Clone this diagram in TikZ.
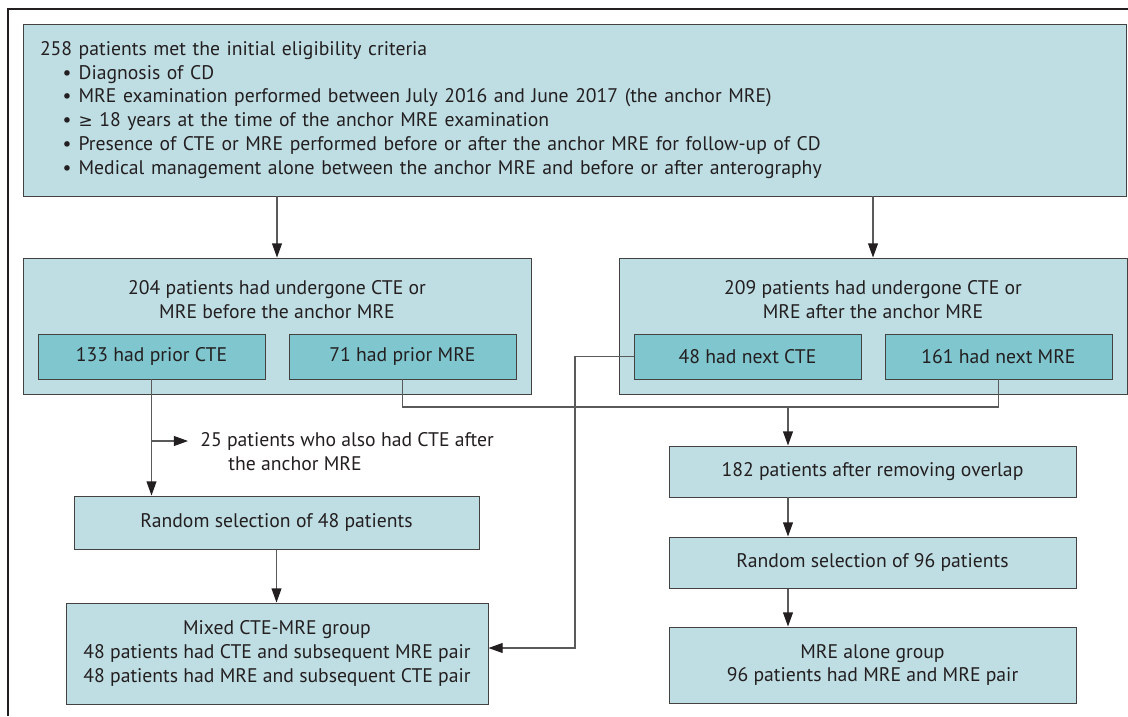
\documentclass[tikz,border=0pt]{standalone}
\usepackage{fontspec}
\setmainfont{PT Sans}
\newfontfamily\symbfont{DejaVu Sans}
\usetikzlibrary{arrows.meta,positioning}
\definecolor{boxblue}{RGB}{191,222,228}
\definecolor{subteal}{RGB}{127,198,206}
\definecolor{linegray}{RGB}{90,90,90}
\definecolor{inkdark}{RGB}{35,31,32}

\begin{document}
\begin{tikzpicture}
                [x=0.025cm, y=-0.025cm,
                >={Triangle[length=10pt,width=7pt,color=inkdark]},
                font=\fontsize{14}{17}\selectfont, text=inkdark,
                box/.style={draw=inkdark!85, fill=boxblue, line width=0.7pt, inner sep=0pt},
                boxsize/.style 2 args={minimum width=#1*0.025cm, minimum height=#2*0.025cm},
                subbox/.style={box, fill=subteal, boxsize={227}{45}},
                link/.style={draw=linegray, line width=0.8pt},
                ]
                \useasboundingbox (0,0) rectangle (1128,716);
                \draw[inkdark, line width=0.8pt] (8,716) -- (8,9) -- (1128,9);

                % eligibility
                \node[box, boxsize={1103}{172}, text width=1069*0.025cm, align=left] (crit) at (574.5,110)
                    {258 patients met the initial eligibility criteria\\
                    \hspace*{16pt}\makebox[11.5pt][l]{\textbullet}Diagnosis of CD\\
                    \hspace*{16pt}\makebox[11.5pt][l]{\textbullet}MRE examination performed between July 2016 and June 2017 (the anchor MRE)\\
                    \hspace*{16pt}\makebox[11.5pt][l]{\textbullet}{\symbfont\fontsize{12}{17}\selectfont ≥} 18 years at the time of the anchor MRE examination\\
                    \hspace*{16pt}\makebox[11.5pt][l]{\textbullet}Presence of CTE or MRE performed before or after the anchor MRE for follow-up of CD\\
                    \hspace*{16pt}\makebox[11.5pt][l]{\textbullet}Medical management alone between the anchor MRE and before or after anterography};

                % before / after the anchor
                \node[box, boxsize={508}{136}] (before) at (277,326) {};
                \node[align=center, inner sep=0pt] (beforet) at (277,300)
                    {204 patients had undergone CTE or\\MRE before the anchor MRE};
                \node[subbox] (prcte) at (151.5,356.5) {133 had prior CTE};
                \node[subbox] (prmre) at (402.5,356.5) {71 had prior MRE};

                \node[box, boxsize={508}{136}] (after) at (873,326) {};
                \node[align=center, inner sep=0pt] (aftert) at (873,300)
                    {209 patients had undergone CTE or\\MRE after the anchor MRE};
                \node[subbox] (nxcte) at (747.5,356.5) {48 had next CTE};
                \node[subbox] (nxmre) at (998.5,356.5) {161 had next MRE};

                % left branch
                \coordinate (exclarr) at (188,441);
                \node[anchor=north west, align=left, inner sep=0pt] (excl) at (200,432)
                    {25 patients who also had CTE after\\\hspace*{20pt}the anchor MRE};
                \node[box, boxsize={405}{53}] (rand48) at (276.5,522.5) {Random selection of 48 patients};
                \node[box, boxsize={422}{101}, align=center] (mixed) at (277,653.5)
                    {Mixed CTE-MRE group\\48 patients had CTE and subsequent MRE pair\\48 patients had MRE and subsequent CTE pair};

                % right branch
                \node[box, boxsize={407}{51}] (overlap) at (872.5,471.5) {182 patients after removing overlap};
                \node[box, boxsize={407}{51}] (rand96) at (872.5,562.5) {Random selection of 96 patients};
                \node[box, boxsize={407}{76}, align=center] (alone) at (872.5,665)
                    {MRE alone group\\96 patients had MRE and MRE pair};

                \draw[link,->] (crit.south -| before.north) -- (before.north);
                \draw[link,->] (crit.south -| after.north) -- (after.north);
                \draw[link,->] (prcte.south) -- (prcte.south |- rand48.north);
                \draw[link,->] (prcte.south |- exclarr) -- (exclarr);
                \draw[link,->] (rand48.south) -- (rand48.south |- mixed.north);

                \coordinate (merge) at (788,407);
                \draw[link] (prmre.south) |- (merge) -| (nxmre.south);
                \draw[link,->] (merge) -- (merge |- overlap.north);
                \draw[link,->] (overlap.south -| merge) -- (merge |- rand96.north);
                \draw[link,->] (rand96.south -| merge) -- (merge |- alone.north);

                \coordinate (cross) at (575,648);
                \draw[link,->] (nxcte.west) -| (cross) -- (cross -| mixed.east);
            \end{tikzpicture}
\end{document}
